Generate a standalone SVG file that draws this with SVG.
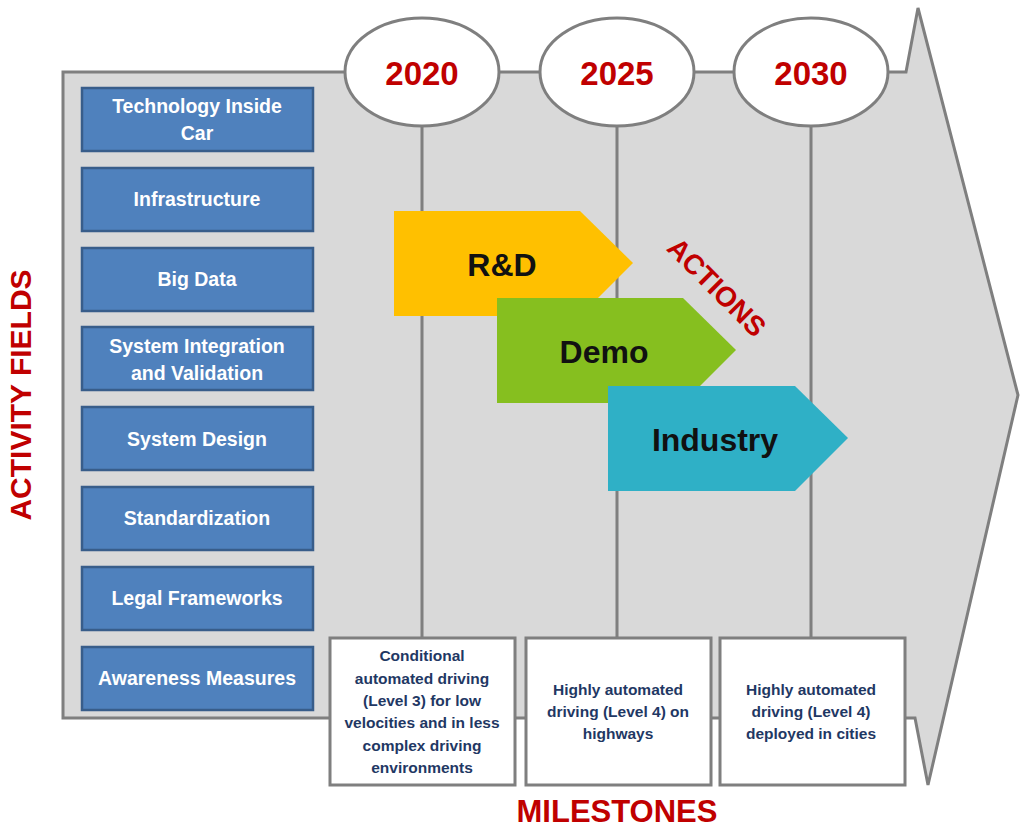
<svg xmlns="http://www.w3.org/2000/svg" width="1024" height="832" viewBox="0 0 1024 832">
<style>
.bg{fill:#d9d9d9;stroke:#7f7f7f;stroke-width:3;stroke-linejoin:miter}
.vline{stroke:#7f7f7f;stroke-width:3;fill:none}
.year{fill:#fff;stroke:#7f7f7f;stroke-width:3}
.yt{font-family:"Liberation Sans",Arial,sans-serif;font-weight:bold;font-size:33px;fill:#c00000;text-anchor:middle}
.af{fill:#4f81bd;stroke:#385d8a;stroke-width:2.5}
.aft{font-family:"Liberation Sans",Arial,sans-serif;font-weight:bold;font-size:19.5px;fill:#fff;text-anchor:middle}
.ms{fill:#fff;stroke:#7f7f7f;stroke-width:3}
.mst{font-family:"Liberation Sans",Arial,sans-serif;font-weight:bold;font-size:15.5px;fill:#1f3864;text-anchor:middle}
.act{font-family:"Liberation Sans",Arial,sans-serif;font-weight:bold;font-size:32px;fill:#111;text-anchor:middle}
.red{font-family:"Liberation Sans",Arial,sans-serif;font-weight:bold;fill:#c00000;text-anchor:middle}
</style>
<g id="timeline-arrow">
<polygon class="bg" points="63,72 906,72 918,8 1018,395 928,785 915,718 63,718"/>
</g>
<g id="connectors">
<line class="vline" x1="422" y1="127" x2="422" y2="638"/>
<line class="vline" x1="617" y1="127" x2="617" y2="638"/>
<line class="vline" x1="811" y1="127" x2="811" y2="638"/>
</g>
<g id="year-2020"><ellipse class="year" cx="422" cy="72" rx="77" ry="54"/><text class="yt" x="422" y="85">2020</text></g>
<g id="year-2025"><ellipse class="year" cx="617" cy="72" rx="77" ry="54"/><text class="yt" x="617" y="85">2025</text></g>
<g id="year-2030"><ellipse class="year" cx="811" cy="72" rx="77" ry="54"/><text class="yt" x="811" y="85">2030</text></g>

<g id="af-technology"><rect class="af" x="82" y="88" width="231" height="63"/><text class="aft" x="197" y="113">Technology Inside</text><text class="aft" x="197" y="140">Car</text></g>
<g id="af-infrastructure"><rect class="af" x="82" y="168" width="231" height="63"/><text class="aft" x="197" y="206">Infrastructure</text></g>
<g id="af-bigdata"><rect class="af" x="82" y="248" width="231" height="63"/><text class="aft" x="197" y="286">Big Data</text></g>
<g id="af-sysint"><rect class="af" x="82" y="327" width="231" height="63"/><text class="aft" x="197" y="353">System Integration</text><text class="aft" x="197" y="380">and Validation</text></g>
<g id="af-sysdesign"><rect class="af" x="82" y="407" width="231" height="63"/><text class="aft" x="197" y="446">System Design</text></g>
<g id="af-standard"><rect class="af" x="82" y="487" width="231" height="63"/><text class="aft" x="197" y="525">Standardization</text></g>
<g id="af-legal"><rect class="af" x="82" y="567" width="231" height="63"/><text class="aft" x="197" y="605">Legal Frameworks</text></g>
<g id="af-awareness"><rect class="af" x="82" y="647" width="231" height="63"/><text class="aft" x="197" y="685">Awareness Measures</text></g>

<g id="action-rd"><polygon fill="#ffc000" points="394,211 580,211 633,263 580,316 394,316"/><text class="act" x="502" y="276">R&amp;D</text></g>
<g id="action-demo"><polygon fill="#86bf1f" points="497,298 683,298 736,350 683,403 497,403"/><text class="act" x="604" y="363">Demo</text></g>
<g id="action-industry"><polygon fill="#2fb0c6" points="608,386 795,386 848,438 795,491 608,491"/><text class="act" x="715" y="451">Industry</text></g>

<text class="red" font-size="28" transform="translate(717,287) rotate(45)" y="10">ACTIONS</text>

<g id="ms-2020"><rect class="ms" x="330" y="638" width="185" height="147"/>
<text class="mst" x="422" y="661">Conditional</text>
<text class="mst" x="422" y="684">automated driving</text>
<text class="mst" x="422" y="706">(Level 3) for low</text>
<text class="mst" x="422" y="728">velocities and in less</text>
<text class="mst" x="422" y="751">complex driving</text>
<text class="mst" x="422" y="773">environments</text></g>
<g id="ms-2025"><rect class="ms" x="526" y="638" width="185" height="147"/>
<text class="mst" x="618" y="695">Highly automated</text>
<text class="mst" x="618" y="717">driving (Level 4) on</text>
<text class="mst" x="618" y="739">highways</text></g>
<g id="ms-2030"><rect class="ms" x="720" y="638" width="185" height="147"/>
<text class="mst" x="811" y="695">Highly automated</text>
<text class="mst" x="811" y="717">driving (Level 4)</text>
<text class="mst" x="811" y="739">deployed in cities</text></g>

<text class="red" font-size="30" transform="translate(20,395) rotate(-90)" y="11">ACTIVITY FIELDS</text>
<text class="red" font-size="31" x="617" y="822">MILESTONES</text>
</svg>
